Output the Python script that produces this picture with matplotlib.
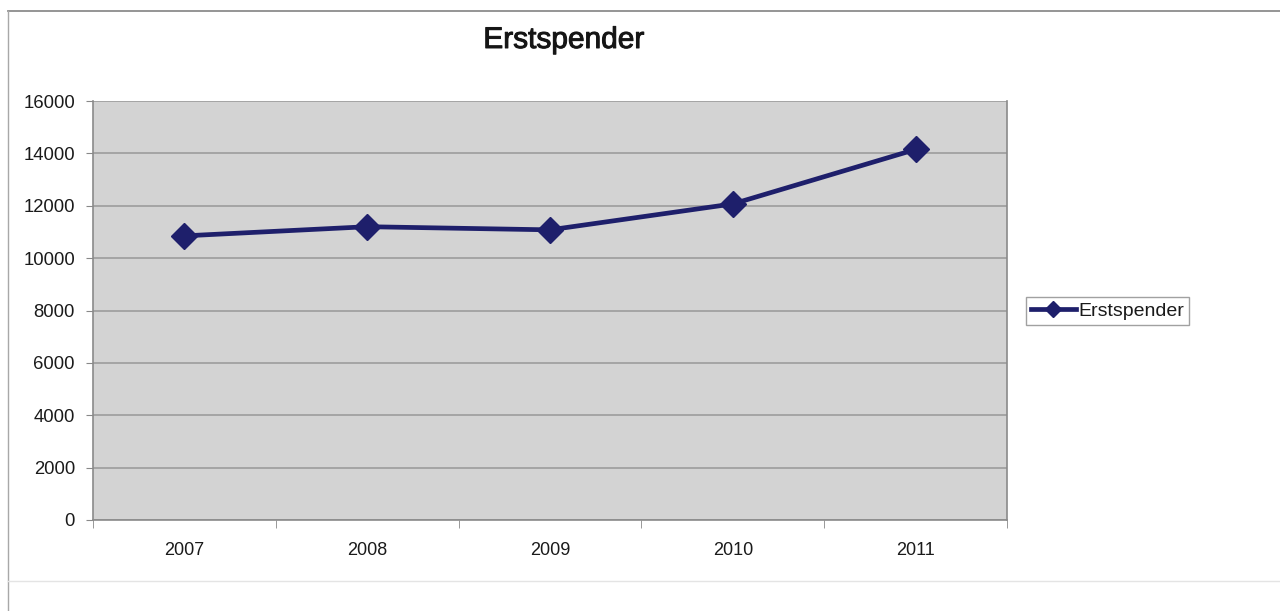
import numpy as np
import matplotlib
matplotlib.use("Agg")
import matplotlib.pyplot as plt
from matplotlib.lines import Line2D
import matplotlib.patheffects as pe

plt.rcParams['font.family'] = ['Liberation Sans', 'DejaVu Sans']

years = ['2007', '2008', '2009', '2010', '2011']
erstspender = [10850, 11200, 11080, 12070, 14150]
y_ticks = [0, 2000, 4000, 6000, 8000, 10000, 12000, 14000, 16000]

line_color = '#1e1f6b'
W, H = 1280, 611

fig = plt.figure(figsize=(12.8, 6.11), dpi=100)
fig.patch.set_facecolor('white')

# outer chart frame: top and left edges, faint bottom edge
def px_line(x0, y0, x1, y1, color, lw):
    fig.add_artist(Line2D([x0 / W, x1 / W], [1 - y0 / H, 1 - y1 / H],
                          transform=fig.transFigure, color=color, linewidth=lw))

px_line(8, 11, W, 11, '#8c8c8c', 1.3)
px_line(8, 11, 8, H, '#a8a8a8', 1.0)
px_line(8, 581, W, 581, '#e4e4e4', 1.0)

ax = fig.add_axes([93 / W, 1 - 520 / H, 914 / W, 419 / H])
ax.set_facecolor('#d3d3d3')

x = np.arange(len(years))
ax.plot(x, erstspender, color=line_color, linewidth=3.4, marker='D',
        markersize=13, markerfacecolor=line_color, markeredgecolor=line_color,
        label='Erstspender', zorder=3)

ax.set_xlim(-0.5, len(years) - 0.5)
ax.set_ylim(0, 16000)
ax.set_yticks(y_ticks)
ax.set_yticklabels([str(v) for v in y_ticks], fontsize=13.3, color='#1a1a1a')
ax.yaxis.grid(True, color='#9c9c9c', linewidth=1.2)
ax.set_axisbelow(True)

# category labels centred, tick marks at the boundaries
ax.set_xticks(x)
ax.set_xticklabels(years, fontsize=13, color='#1a1a1a')
ax.tick_params(axis='x', length=0, pad=16)
ax.set_xticks(np.arange(-0.5, len(years)), minor=True)
ax.tick_params(axis='x', which='minor', length=6, color='#888888')
ax.tick_params(axis='y', length=5, color='#888888', pad=8)

for side in ['left', 'bottom', 'right']:
    ax.spines[side].set_color('#8a8a8a')
    ax.spines[side].set_linewidth(1.2)
ax.spines['top'].set_visible(False)

fig.text(564 / W, 1 - 40 / H, 'Erstspender', fontsize=21.5,
         ha='center', va='center', color='#151515',
         path_effects=[pe.withStroke(linewidth=0.7, foreground='#151515')])

leg = fig.legend(loc='center left', bbox_to_anchor=(1026 / W, 1 - 311 / H),
                 fontsize=14, frameon=True, fancybox=False, handlelength=2.3,
                 borderpad=0.25, borderaxespad=0, handletextpad=0.15,
                 markerscale=0.6)
leg.get_frame().set_edgecolor('#8a8a8a')
leg.get_frame().set_linewidth(1.0)
for t in leg.get_texts():
    t.set_color('#1a1a1a')

fig.savefig('out.png', dpi=100, facecolor='white')
